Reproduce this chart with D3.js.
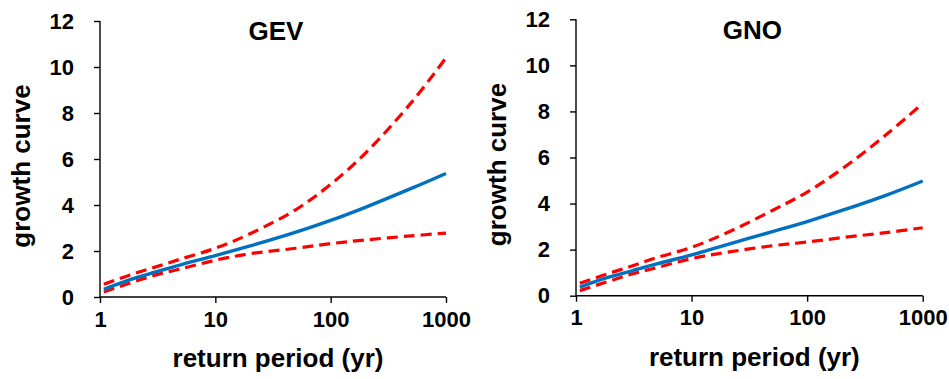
<!DOCTYPE html>
<html>
<head>
<meta charset="utf-8">
<script src="https://cdn.jsdelivr.net/npm/d3@7"></script>
<style>
  body { margin: 0; background: #fff; }
  svg { display: block; font-family: "Liberation Sans", Arial, sans-serif; font-weight: bold; }
</style>
</head>
<body>
<div id="chart"></div>
<script>
const returnPeriods = [1.08, 1.8, 3, 5, 10, 20, 50, 100, 200, 500, 1000];

// GEV panel
const gevCentral = [0.33, 0.74, 1.08, 1.40, 1.80, 2.22, 2.82, 3.33, 3.90, 4.72, 5.37];
const gevUpper   = [0.55, 0.95, 1.30, 1.65, 2.12, 2.75, 3.80, 4.90, 6.25, 8.45, 10.4];
const gevLower   = [0.22, 0.60, 0.95, 1.22, 1.60, 1.88, 2.12, 2.32, 2.48, 2.66, 2.78];

// GNO panel
const gnoCentral = [0.37, 0.76, 1.07, 1.38, 1.77, 2.21, 2.78, 3.22, 3.70, 4.39, 4.98];
const gnoUpper   = [0.54, 0.92, 1.28, 1.65, 2.10, 2.72, 3.70, 4.50, 5.50, 7.05, 8.35];
const gnoLower   = [0.22, 0.58, 0.93, 1.22, 1.61, 1.88, 2.17, 2.33, 2.52, 2.75, 2.95];

const xTicks = [1, 10, 100, 1000];
const yTicks = [0, 2, 4, 6, 8, 10, 12];

const width = 949, height = 379;

const svg = d3.select("#chart")
    .append("svg")
    .attr("width", width)
    .attr("height", height);

const panels = [
    { title: "GEV", x0: 100, x1: 446, y0: 297, y1: 21, titleY: 40, central: gevCentral, upper: gevUpper, lower: gevLower },
    { title: "GNO", x0: 576, x1: 922.7, y0: 295.7, y1: 19.3, titleY: 38.5, central: gnoCentral, upper: gnoUpper, lower: gnoLower }
];

panels.forEach(p => {
    const x = d3.scaleLog().domain([1, 1000]).range([p.x0, p.x1]);
    const y = d3.scaleLinear().domain([0, 12]).range([p.y0, p.y1]);
    const g = svg.append("g");

    // axes
    const xAxis = g.append("g")
        .attr("transform", `translate(0,${p.y0})`)
        .call(d3.axisBottom(x).tickValues(xTicks).tickFormat(d3.format("d")).tickSize(6).tickPadding(8));
    const yAxis = g.append("g")
        .attr("transform", `translate(${p.x0},0)`)
        .call(d3.axisLeft(y).tickValues(yTicks).tickSize(6).tickPadding(20));

    [xAxis, yAxis].forEach(a => {
        a.select(".domain").attr("stroke", "#000").attr("stroke-width", 1.4);
        a.selectAll(".tick line").attr("stroke", "#000").attr("stroke-width", 1.4);
        a.selectAll("text")
            .attr("fill", "#000")
            .style("font-size", "22px")
            .style("font-family", "'Liberation Sans', Arial, sans-serif")
            .style("font-weight", "bold");
    });
    // plain axis lines, no outer tick caps
    xAxis.select(".domain").attr("d", `M${p.x0},0H${p.x1}`);
    yAxis.select(".domain").attr("d", `M0,${p.y0}V${p.y1}`);

    const line = d3.line()
        .x((d, i) => x(returnPeriods[i]))
        .y(d => y(d))
        .curve(d3.curveCatmullRom.alpha(0.5));

    // confidence bounds (red dashed)
    [p.upper, p.lower].forEach(s => {
        g.append("path")
            .datum(s)
            .attr("d", line)
            .attr("fill", "none")
            .attr("stroke", "#ff0000")
            .attr("stroke-width", 3.2)
            .attr("stroke-dasharray", "11,6");
    });

    // fitted growth curve (blue)
    g.append("path")
        .datum(p.central)
        .attr("d", line)
        .attr("fill", "none")
        .attr("stroke", "#0070c0")
        .attr("stroke-width", 3.4);

    // titles
    const cx = (p.x0 + p.x1) / 2;
    g.append("text")
        .attr("x", cx + 3)
        .attr("y", p.titleY)
        .attr("text-anchor", "middle")
        .style("font-size", "26px")
        .text(p.title);

    g.append("text")
        .attr("x", cx + 5)
        .attr("y", p.y0 + 70)
        .attr("text-anchor", "middle")
        .style("font-size", "26px")
        .text("return period (yr)");

    g.append("text")
        .attr("transform", `translate(${p.x0 - 70},${(p.y0 + p.y1) / 2 + 7}) rotate(-90)`)
        .attr("text-anchor", "middle")
        .style("font-size", "26px")
        .text("growth curve");
});
</script>
</body>
</html>
